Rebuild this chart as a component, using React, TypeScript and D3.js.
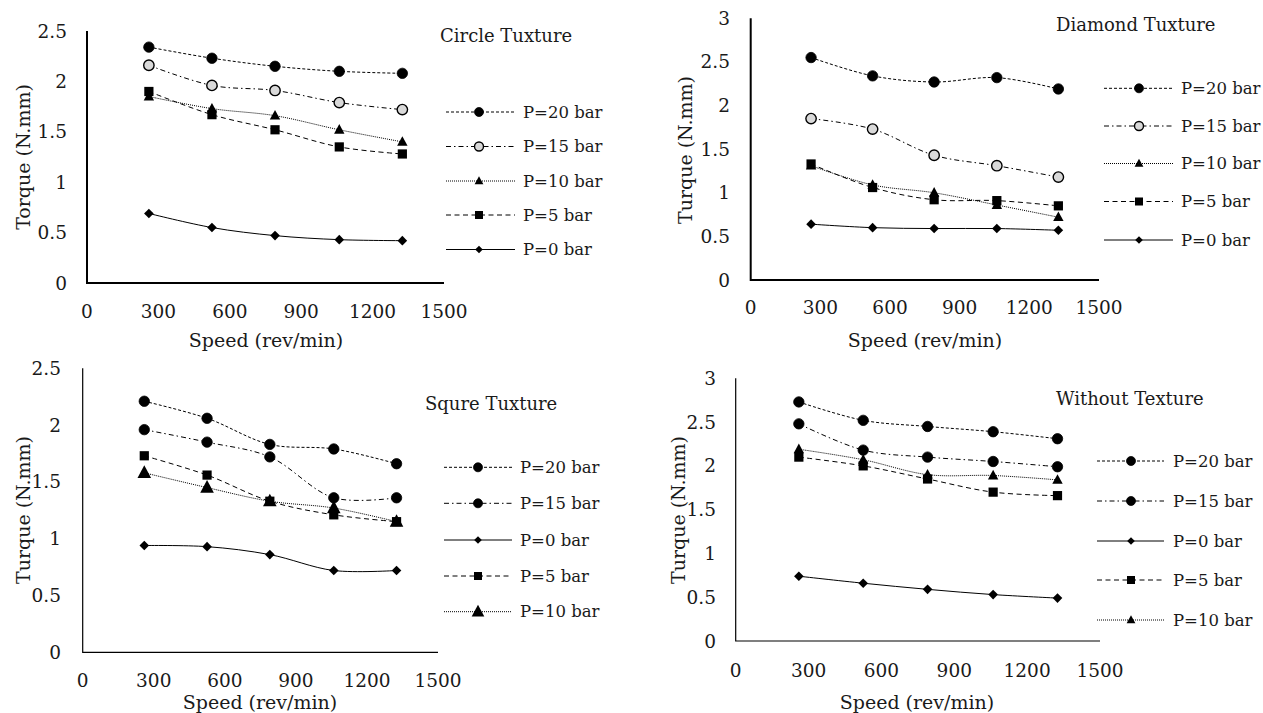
import React from 'react';
import * as d3 from 'd3';

// speed values (rev/min) shared by all four panels
const speeds = [260, 525, 790, 1060, 1325];

// Circle Tuxture
const circle20 = [2.34, 2.23, 2.15, 2.10, 2.08];
const circle15 = [2.16, 1.96, 1.91, 1.79, 1.72];
const circle10 = [1.85, 1.73, 1.66, 1.52, 1.40];
const circle5 = [1.90, 1.67, 1.52, 1.35, 1.28];
const circle0 = [0.69, 0.55, 0.47, 0.43, 0.42];

// Diamond Tuxture
const diamond20 = [2.55, 2.34, 2.27, 2.32, 2.19];
const diamond15 = [1.85, 1.73, 1.43, 1.31, 1.18];
const diamond10 = [1.31, 1.09, 1.00, 0.86, 0.72];
const diamond5 = [1.33, 1.06, 0.92, 0.91, 0.85];
const diamond0 = [0.64, 0.60, 0.59, 0.59, 0.57];

// Squre Tuxture
const square20 = [2.21, 2.06, 1.83, 1.79, 1.66];
const square15 = [1.96, 1.85, 1.72, 1.36, 1.36];
const square0 = [0.94, 0.93, 0.86, 0.72, 0.72];
const square5 = [1.73, 1.56, 1.33, 1.21, 1.15];
const square10 = [1.58, 1.45, 1.33, 1.27, 1.15];

// Without Texture
const plain20 = [2.73, 2.52, 2.45, 2.39, 2.31];
const plain15 = [2.48, 2.18, 2.10, 2.05, 1.99];
const plain0 = [0.74, 0.66, 0.59, 0.53, 0.49];
const plain5 = [2.10, 2.00, 1.85, 1.70, 1.66];
const plain10 = [2.19, 2.07, 1.90, 1.89, 1.84];

const xTicks = [0, 300, 600, 900, 1200, 1500];
const yTicks25 = [0, 0.5, 1, 1.5, 2, 2.5];
const yTicks3 = [0, 0.5, 1, 1.5, 2, 2.5, 3];

const FONT = '"DejaVu Serif", serif';
const INK = '#1a1a1a';

const dashes: Record<string, string | undefined> = {
  p20: '3,2',
  p15: '5,3,1.5,3',
  p10: '1,1',
  p5: '5,3.5',
  p0: undefined,
};

type Series = { label: string; values: number[]; style: string; marker: string; gray?: boolean; big?: boolean };

function Marker({ type, x, y, s, gray }: { type: string; x: number; y: number; s: number; gray?: boolean }) {
  if (type === 'circle') {
    return <circle cx={x} cy={y} r={s} fill={gray ? '#d9d9d9' : '#000'} stroke="#000" strokeWidth={gray ? 1.4 : 0.8} />;
  }
  if (type === 'square') {
    return <rect x={x - s} y={y - s} width={s * 2} height={s * 2} fill="#000" />;
  }
  if (type === 'triangle') {
    return <path d={`M${x},${y - s * 1.1}L${x + s},${y + s * 0.75}L${x - s},${y + s * 0.75}Z`} fill="#000" />;
  }
  return <path d={`M${x},${y - s}L${x + s},${y}L${x},${y + s}L${x - s},${y}Z`} fill="#000" />;
}

const markerSize = (s: Series, legend: boolean) => {
  if (s.marker === 'circle') return legend ? 4.5 : 5.2;
  if (s.marker === 'square') return legend ? 4 : 4.6;
  if (s.marker === 'triangle') return s.big ? (legend ? 6.3 : 6.8) : legend ? 4.4 : 5.2;
  return legend ? 3.8 : 4.8;
};

type PanelProps = {
  title: string;
  yLabel: string;
  left: number; right: number; top: number; bottom: number;
  yMax: number; yTicks: number[];
  yTickX: number; xTickY: number;
  xTitle: [number, number]; yTitle: [number, number];
  titlePos: [number, number];
  legend: { x0: number; x1: number; mx: number; tx: number; ys: number[] };
  series: Series[];
  axisWidth: number;
};

function Panel(p: PanelProps) {
  const x = d3.scaleLinear().domain([0, 1500]).range([p.left, p.right]);
  const y = d3.scaleLinear().domain([0, p.yMax]).range([p.bottom, p.top]);
  const line = d3.line<number>()
    .x((_, i) => x(speeds[i]))
    .y(d => y(d))
    .curve(d3.curveCatmullRom.alpha(0.5));

  return (
    <g fontFamily={FONT} fill={INK}>
      {/* axes */}
      <path d={`M${p.left},${p.top}V${p.bottom}H${p.right}`} fill="none" stroke="#000" strokeWidth={p.axisWidth} />
      {p.yTicks.map(t => (
        <text key={'y' + t} x={p.yTickX} y={y(t)} textAnchor="end" dominantBaseline="central" fontSize={18.5}>{String(t)}</text>
      ))}
      {xTicks.map(t => (
        <text key={'x' + t} x={x(t)} y={p.xTickY} textAnchor="middle" dominantBaseline="central" fontSize={18.5}>{String(t)}</text>
      ))}
      <text x={p.xTitle[0]} y={p.xTitle[1]} textAnchor="middle" dominantBaseline="central" fontSize={19}>Speed (rev/min)</text>
      <text transform={`translate(${p.yTitle[0]},${p.yTitle[1]}) rotate(-90)`} textAnchor="middle" dominantBaseline="central" fontSize={19}>{p.yLabel}</text>
      <text x={p.titlePos[0]} y={p.titlePos[1]} dominantBaseline="central" fontSize={18}>{p.title}</text>

      {/* series */}
      {p.series.map(s => (
        <g key={s.label}>
          <path d={line(s.values) || ''} fill="none" stroke="#000" strokeWidth={1} strokeDasharray={dashes[s.style]} />
          {s.values.map((v, i) => (
            <Marker key={i} type={s.marker} x={x(speeds[i])} y={y(v)} s={markerSize(s, false)} gray={s.gray} />
          ))}
        </g>
      ))}

      {/* legend */}
      {p.series.map((s, i) => (
        <g key={'lg' + s.label}>
          <line x1={p.legend.x0} x2={p.legend.x1} y1={p.legend.ys[i]} y2={p.legend.ys[i]} stroke="#000" strokeWidth={1} strokeDasharray={dashes[s.style]} />
          <Marker type={s.marker} x={p.legend.mx} y={p.legend.ys[i]} s={markerSize(s, true)} gray={s.gray} />
          <text x={p.legend.tx} y={p.legend.ys[i]} dominantBaseline="central" fontSize={16.5}>{s.label}</text>
        </g>
      ))}
    </g>
  );
}

export default function App() {
  return (
    <svg width={1263} height={713} style={{ position: 'absolute', left: 0, top: 0, background: '#fff' }}>
      <Panel
        title="Circle Tuxture" yLabel="Torque (N.mm)"
        left={87} right={444} top={31} bottom={283} yMax={2.5} yTicks={yTicks25}
        yTickX={67} xTickY={311} xTitle={[266, 340]} yTitle={[23, 157]} titlePos={[440, 35]}
        axisWidth={2}
        legend={{ x0: 446, x1: 515, mx: 479, tx: 523, ys: [112, 146.5, 181, 215, 249.5] }}
        series={[
          { label: 'P=20 bar', values: circle20, style: 'p20', marker: 'circle' },
          { label: 'P=15 bar', values: circle15, style: 'p15', marker: 'circle', gray: true },
          { label: 'P=10 bar', values: circle10, style: 'p10', marker: 'triangle' },
          { label: 'P=5 bar', values: circle5, style: 'p5', marker: 'square' },
          { label: 'P=0 bar', values: circle0, style: 'p0', marker: 'diamond' },
        ]}
      />
      <Panel
        title="Diamond Tuxture" yLabel="Turque (N.mm)"
        left={750.7} right={1099} top={18.3} bottom={280} yMax={3} yTicks={yTicks3}
        yTickX={730} xTickY={307} xTitle={[925, 340]} yTitle={[685, 150]} titlePos={[1056, 24]}
        axisWidth={2}
        legend={{ x0: 1104, x1: 1173, mx: 1139, tx: 1181, ys: [88.3, 126, 163.5, 201.5, 240] }}
        series={[
          { label: 'P=20 bar', values: diamond20, style: 'p20', marker: 'circle' },
          { label: 'P=15 bar', values: diamond15, style: 'p15', marker: 'circle', gray: true },
          { label: 'P=10 bar', values: diamond10, style: 'p10', marker: 'triangle' },
          { label: 'P=5 bar', values: diamond5, style: 'p5', marker: 'square' },
          { label: 'P=0 bar', values: diamond0, style: 'p0', marker: 'diamond' },
        ]}
      />
      <Panel
        title="Squre Tuxture" yLabel="Turque (N.mm)"
        left={82.7} right={438} top={368.3} bottom={652.3} yMax={2.5} yTicks={yTicks25}
        yTickX={61} xTickY={680} xTitle={[260, 702]} yTitle={[22.7, 510]} titlePos={[425, 403]}
        axisWidth={1.2}
        legend={{ x0: 444, x1: 512, mx: 478, tx: 520, ys: [467.3, 503.3, 540, 576, 611.7] }}
        series={[
          { label: 'P=20 bar', values: square20, style: 'p20', marker: 'circle' },
          { label: 'P=15 bar', values: square15, style: 'p15', marker: 'circle' },
          { label: 'P=0 bar', values: square0, style: 'p0', marker: 'diamond' },
          { label: 'P=5 bar', values: square5, style: 'p5', marker: 'square' },
          { label: 'P=10 bar', values: square10, style: 'p10', marker: 'triangle', big: true },
        ]}
      />
      <Panel
        title="Without Texture" yLabel="Turque (N.mm)"
        left={735.7} right={1100} top={378.3} bottom={641} yMax={3} yTicks={yTicks3}
        yTickX={716} xTickY={670} xTitle={[917, 702]} yTitle={[678, 510]} titlePos={[1056, 398]}
        axisWidth={1.2}
        legend={{ x0: 1097, x1: 1164, mx: 1131, tx: 1173, ys: [461, 501, 541, 580, 620] }}
        series={[
          { label: 'P=20 bar', values: plain20, style: 'p20', marker: 'circle' },
          { label: 'P=15 bar', values: plain15, style: 'p15', marker: 'circle' },
          { label: 'P=0 bar', values: plain0, style: 'p0', marker: 'diamond' },
          { label: 'P=5 bar', values: plain5, style: 'p5', marker: 'square' },
          { label: 'P=10 bar', values: plain10, style: 'p10', marker: 'triangle' },
        ]}
      />
    </svg>
  );
}
